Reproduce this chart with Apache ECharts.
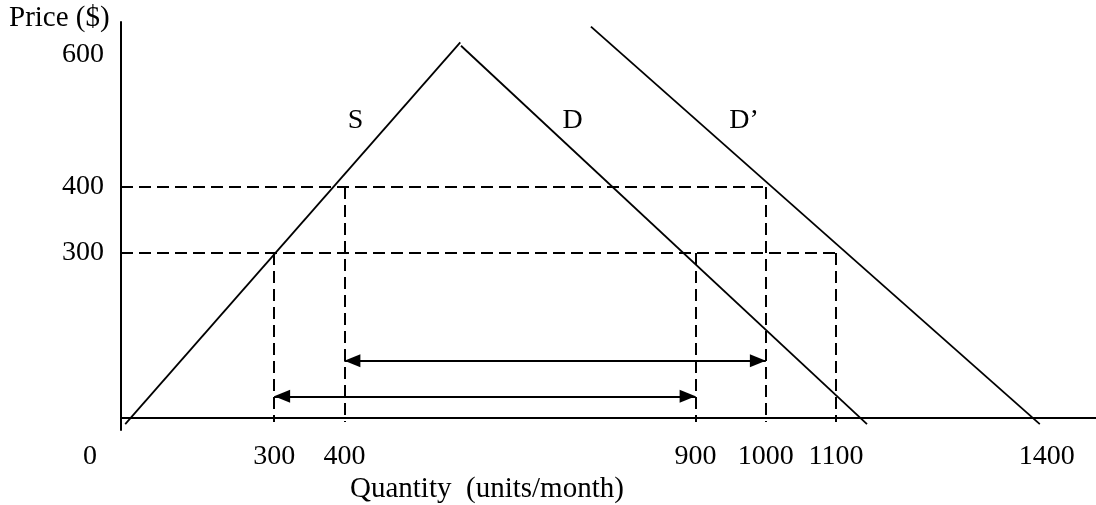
<!DOCTYPE html>
<html>
<head>
<meta charset="utf-8">
<script src="https://cdn.jsdelivr.net/npm/echarts@6/dist/echarts.min.js"></script>
<style>
  html, body { margin: 0; padding: 0; background: #fff; }
  #chart { width: 1096px; height: 505px; }
</style>
</head>
<body>
<div id="chart"></div>
<script>
// axis extents (quantity / price)
const qMin = 82, qMax = 1470
const pMin = 32, pMax = 650
const axisP = 50        // price where the quantity axis is drawn
const guideBottom = 44  // dashed verticals run a little under the axis

const qTicks = [300, 400, 900, 1000, 1100, 1400]
const pTicks = [300, 400, 600]

// curves as [quantity, price]
const supply = [[88, 41], [565, 619]]
const demand = [[566, 614], [1144, 41]]
const demandNew = [[751, 643], [1390, 41]]

// dashed guides
const guideH = [[400, 1000], [300, 1100]]                                   // [price, quantity end]
const guideV = [[300, 300], [400, 400], [900, 300], [1000, 400], [1100, 300]] // [quantity, price top]

// double arrows: [from q, to q, price]
const arrows = [[400, 1000, 137], [300, 900, 83]]

const curveNames = ['S', 'D', 'D\u2019']
const curveLabelPos = [[416, 500], [725, 500], [969, 500]]

const font = "'Liberation Serif', 'Times New Roman', serif"
const black = '#000'

const chart = echarts.init(document.getElementById('chart'))

const guideLines = [
  ...guideH.map(g => [{ coord: [qMin, g[0]] }, { coord: [g[1], g[0]] }]),
  ...guideV.map(g => [{ coord: [g[0], g[1]] }, { coord: [g[0], guideBottom] }])
]
const arrowLines = arrows.map(a => [{ coord: [a[0], a[2]] }, { coord: [a[1], a[2]] }])

const curve = (name, data) => ({
  name,
  type: 'line',
  data,
  symbol: 'none',
  silent: true,
  lineStyle: { color: black, width: 1.8 }
})

const opt = {
  animation: false,
  grid: { left: 121, right: 0, top: 22, bottom: 75 },
  xAxis: {
    type: 'value',
    min: qMin,
    max: qMax,
    axisLine: { show: false },
    axisTick: { show: false },
    splitLine: { show: false },
    axisLabel: {
      customValues: qTicks,
      formatter: v => String(v),
      margin: 13,
      color: black,
      fontFamily: font,
      fontSize: 28
    }
  },
  yAxis: {
    type: 'value',
    min: pMin,
    max: pMax,
    axisLine: { show: true, lineStyle: { color: black, width: 2 } },
    axisTick: { show: false },
    splitLine: { show: false },
    axisLabel: {
      customValues: pTicks,
      formatter: v => String(v),
      margin: 17,
      color: black,
      fontFamily: font,
      fontSize: 28
    }
  },
  graphic: [
    { type: 'text', x: 9, y: 18, style: { text: 'Price ($)', fill: black, font: '29px ' + font, align: 'left', verticalAlign: 'middle' } },
    { type: 'text', x: 90, y: 457, style: { text: '0', fill: black, font: '28px ' + font, align: 'center', verticalAlign: 'middle' } },
    { type: 'text', x: 350, y: 489, style: { text: 'Quantity  (units/month)', fill: black, font: '29px ' + font, align: 'left', verticalAlign: 'middle' } }
  ],
  series: [
    {
      name: 'axis',
      type: 'line',
      data: [],
      markLine: {
        silent: true,
        symbol: 'none',
        label: { show: false },
        lineStyle: { color: black, width: 2, type: 'solid' },
        data: [{ yAxis: axisP }]
      }
    },
    curve('S', supply),
    curve('D', demand),
    curve('D2', demandNew),
    {
      name: 'guides',
      type: 'line',
      data: [],
      markLine: {
        silent: true,
        symbol: 'none',
        label: { show: false },
        lineStyle: { color: black, width: 2, type: [12, 6] },
        data: guideLines
      }
    },
    {
      name: 'arrows',
      type: 'line',
      data: [],
      markLine: {
        silent: true,
        symbol: ['triangle', 'triangle'],
        symbolSize: [13, 16],
        symbolOffset: [[0, 8], [0, 8]],
        label: { show: false },
        lineStyle: { color: black, width: 1.8, type: 'solid' },
        itemStyle: { color: black },
        data: arrowLines
      }
    },
    {
      name: 'labels',
      type: 'scatter',
      symbolSize: 0,
      silent: true,
      itemStyle: { opacity: 1 },
      data: curveLabelPos.map((p, i) => ({ value: p, name: curveNames[i] })),
      label: {
        show: true,
        position: 'inside',
        formatter: '{b}',
        color: black,
        textBorderWidth: 0,
        fontFamily: font,
        fontSize: 28
      }
    }
  ]
}

chart.setOption(opt)
</script>
</body>
</html>
